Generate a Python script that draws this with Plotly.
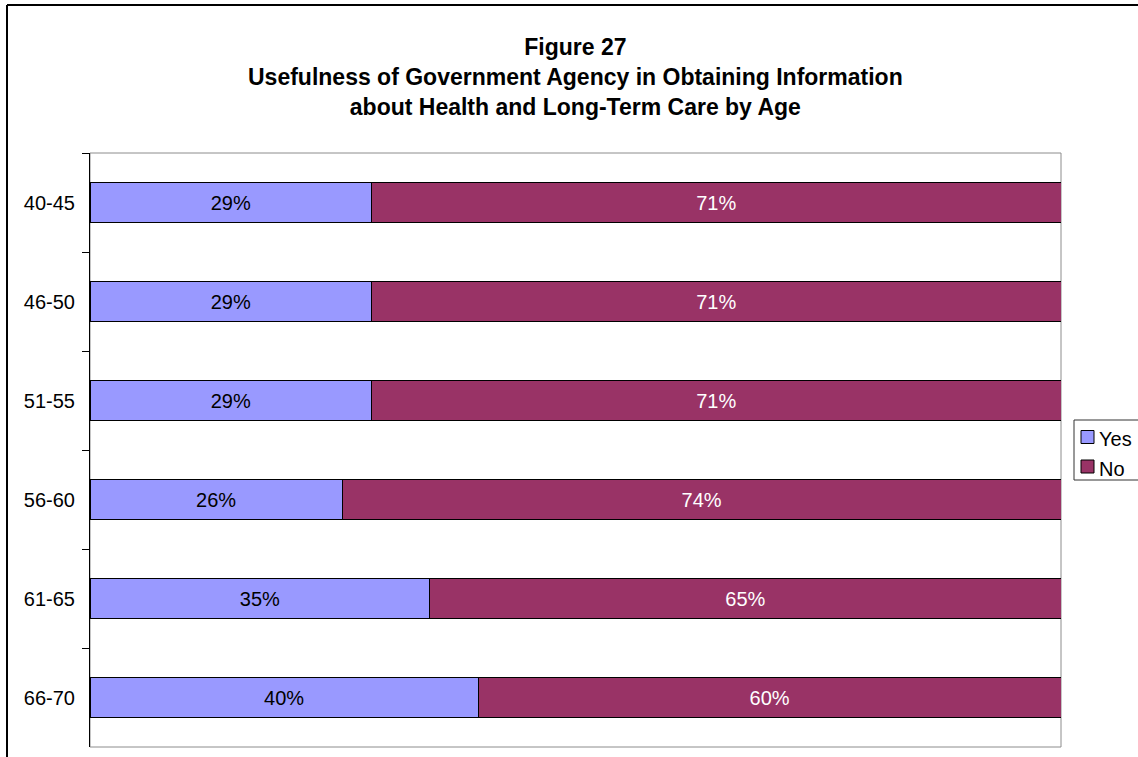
import plotly.graph_objects as go

# Survey responses by age group (percent)
age_groups = ["40-45", "46-50", "51-55", "56-60", "61-65", "66-70"]
yes_pct = [29, 29, 29, 26, 35, 40]
no_pct = [71, 71, 71, 74, 65, 60]

series_names = ["Yes", "No"]
series_colors = ["#9999FF", "#993366"]
label_colors = ["black", "white"]

title_lines = [
    "Figure 27",
    "Usefulness of Government Agency in Obtaining Information",
    "about Health and Long-Term Care by Age",
]

FONT = "Liberation Sans, Arial, sans-serif"
W, H = 1138, 757
M_L, M_R, M_T, M_B = 90, 77, 153, 10
PW, PH = W - M_L - M_R, H - M_T - M_B


def px_x(x):
    """Pixel column -> paper x."""
    return (x - M_L) / PW


def px_y(y):
    """Pixel row -> paper y."""
    return (H - M_B - y) / PH


fig = go.Figure()
for name, vals, color, tcolor in zip(series_names, [yes_pct, no_pct], series_colors, label_colors):
    fig.add_trace(go.Bar(
        name=name,
        y=age_groups,
        x=vals,
        orientation="h",
        marker=dict(color=color, line=dict(color="black", width=1)),
        text=[f"{v}%" for v in vals],
        textposition="inside",
        insidetextanchor="middle",
        textangle=0,
        constraintext="none",
        textfont=dict(family=FONT, size=20, color=tcolor),
        hoverinfo="skip",
    ))

shapes = [
    # plot area frame
    dict(type="rect", xref="paper", yref="paper", x0=0, x1=1, y0=0, y1=1,
         line=dict(color="#8c8c8c", width=1), layer="below"),
    # outer chart frame (left and top edges)
    dict(type="line", xref="paper", yref="paper", x0=px_x(7), x1=px_x(7),
         y0=px_y(5), y1=px_y(770), line=dict(color="black", width=2)),
    dict(type="line", xref="paper", yref="paper", x0=px_x(7), x1=px_x(1150),
         y0=px_y(5), y1=px_y(5), line=dict(color="black", width=2)),
    # legend box
    dict(type="rect", xref="paper", yref="paper", x0=px_x(1074), x1=px_x(1150),
         y0=px_y(480), y1=px_y(420), line=dict(color="#333333", width=1),
         fillcolor="white"),
]
annotations = [
    dict(text="<br>".join(f"<b>{t}</b>" for t in title_lines),
         xref="paper", yref="paper", x=0.5, y=px_y(77),
         xanchor="center", yanchor="middle", showarrow=False,
         font=dict(family=FONT, size=23, color="black")),
]

# legend entries
for i, (name, color) in enumerate(zip(series_names, series_colors)):
    cy = 437 + 29.5 * i
    shapes.append(dict(type="rect", xref="paper", yref="paper",
                       x0=px_x(1081), x1=px_x(1094), y0=px_y(cy + 6.5), y1=px_y(cy - 6.5),
                       fillcolor=color, line=dict(color="black", width=1)))
    annotations.append(dict(text=name, xref="paper", yref="paper",
                            x=px_x(1097), y=px_y(cy + 2), xanchor="left", yanchor="middle",
                            showarrow=False,
                            font=dict(family=FONT, size=20, color="black")))

fig.update_layout(
    width=W, height=H,
    margin=dict(l=M_L, r=M_R, t=M_T, b=M_B, pad=0),
    barmode="stack",
    bargap=0.6,
    showlegend=False,
    plot_bgcolor="white",
    paper_bgcolor="white",
    font=dict(family=FONT, size=20, color="black"),
    shapes=shapes,
    annotations=annotations,
    xaxis=dict(range=[0, 100], showgrid=False, zeroline=False, showticklabels=False,
               ticks="", showline=False, fixedrange=True),
    yaxis=dict(categoryorder="array", categoryarray=age_groups, autorange="reversed",
               showgrid=False, zeroline=False, showline=True, linecolor="black", linewidth=1,
               ticks="outside", tickson="boundaries", ticklen=7, tickcolor="black",
               tickwidth=1, ticklabelstandoff=10,
               tickfont=dict(family=FONT, size=20, color="black")),
)

fig.write_html("out.html")
